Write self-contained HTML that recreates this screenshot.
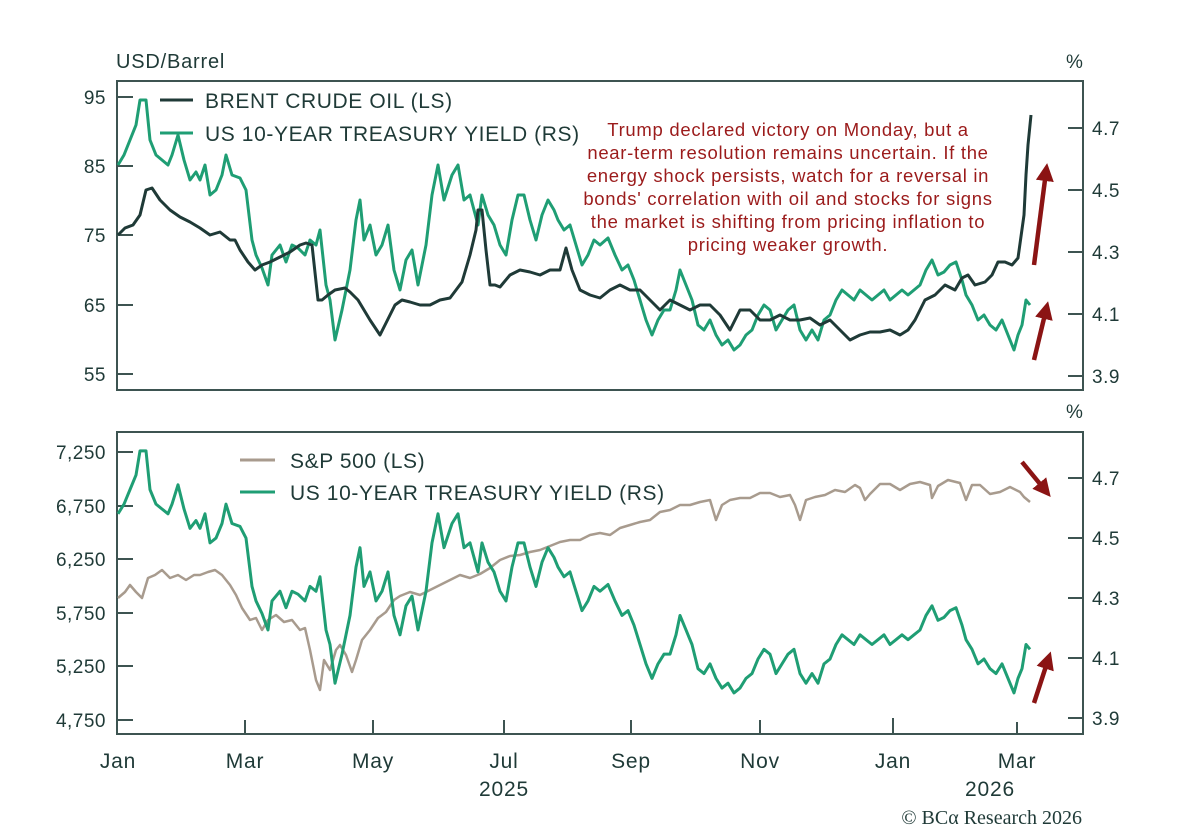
<!DOCTYPE html>
<html><head><meta charset="utf-8"><style>
body{margin:0;background:#fff;}
svg text{font-family:"Liberation Sans",sans-serif;fill:#1f3a37;}
</style></head><body>
<svg width="1200" height="830" viewBox="0 0 1200 830" xmlns="http://www.w3.org/2000/svg">
<defs>
<polyline id="yld" fill="none" stroke="#1f9e74" stroke-width="3" stroke-linejoin="round" vector-effect="non-scaling-stroke" points="118,165 124,155 130,140 136,125 140,100 146,100 150,140 156,155 162,160 168,165 172,155 178,135 184,160 190,180 196,172 200,180 205,165 210,195 216,190 222,175 226,155 232,175 240,178 246,190 252,240 256,255 262,268 268,285 272,255 280,245 286,262 292,245 298,248 305,255 310,240 316,245 320,230 326,285 330,300 335,340 342,310 350,270 356,220 360,200 364,240 370,225 376,255 382,245 388,225 394,270 400,290 406,260 412,250 418,285 426,245 432,195 438,165 444,200 452,175 458,165 464,200 470,195 478,225 482,195 488,215 494,225 500,245 506,255 512,220 518,195 524,195 530,220 536,240 542,215 548,200 554,210 558,220 564,230 570,225 576,245 582,265 588,255 594,240 600,245 608,238 615,255 622,270 628,265 634,280 640,300 646,320 652,335 658,320 664,310 670,310 676,290 680,270 686,285 692,300 698,325 704,330 710,320 716,335 722,345 728,340 734,350 740,345 746,335 752,330 758,315 764,305 770,310 776,330 782,320 788,310 794,305 800,330 806,340 812,330 818,340 824,320 830,315 836,300 842,290 848,295 854,300 860,290 866,295 872,300 878,295 884,290 890,300 896,295 902,290 908,295 914,290 920,285 926,270 932,260 938,275 944,272 950,265 956,262 962,280 966,295 972,305 978,320 984,315 990,325 996,330 1002,320 1008,335 1014,350 1018,335 1022,325 1026,300 1030,305"/>
<marker id="ah" markerWidth="4" markerHeight="4" refX="2" refY="2" orient="auto"><path d="M0,0 L4,2 L0,4 z" fill="#8b1414"/></marker>
</defs>
<!-- top panel -->
<text x="116" y="68" font-size="20" letter-spacing="0.8">USD/Barrel</text>
<text x="1066" y="68" font-size="19">%</text>
<rect x="117" y="81" width="966" height="309" fill="none" stroke="#3d5451" stroke-width="2"/>
<g stroke="#3d5451" stroke-width="2">
<line x1="117" y1="97" x2="133" y2="97"/><line x1="117" y1="166" x2="133" y2="166"/><line x1="117" y1="235" x2="133" y2="235"/><line x1="117" y1="305" x2="133" y2="305"/><line x1="117" y1="374" x2="133" y2="374"/>
<line x1="1068" y1="128" x2="1083" y2="128"/><line x1="1068" y1="190" x2="1083" y2="190"/><line x1="1068" y1="252" x2="1083" y2="252"/><line x1="1068" y1="314" x2="1083" y2="314"/><line x1="1068" y1="376" x2="1083" y2="376"/>
</g>
<g font-size="19" text-anchor="end" letter-spacing="0.5">
<text x="106" y="104">95</text><text x="106" y="173">85</text><text x="106" y="242">75</text><text x="106" y="312">65</text><text x="106" y="381">55</text>
</g>
<g font-size="19" letter-spacing="0.5">
<text x="1092" y="135">4.7</text><text x="1092" y="197">4.5</text><text x="1092" y="259">4.3</text><text x="1092" y="321">4.1</text><text x="1092" y="383">3.9</text>
</g>
<use href="#yld"/>
<polyline fill="none" stroke="#1f3a37" stroke-width="3" stroke-linejoin="round" points="118,235 125,228 133,225 140,215 146,190 152,188 160,200 170,210 180,217 190,222 200,228 210,235 220,232 230,240 235,240 240,250 248,262 255,270 262,265 270,262 278,258 290,252 300,245 306,243 312,245 318,300 322,300 328,295 335,290 345,288 350,292 358,300 370,320 380,335 385,325 395,305 402,300 410,302 420,305 430,305 440,300 450,298 462,282 470,255 476,230 478,210 482,210 486,250 490,285 495,285 500,287 510,275 520,270 530,272 540,275 550,270 560,270 566,248 572,270 580,290 590,295 600,298 610,290 620,285 630,290 640,290 650,300 660,310 670,300 680,305 690,310 700,305 710,305 720,315 730,330 740,310 750,310 760,320 770,320 780,315 790,320 800,320 810,318 820,325 830,320 840,330 850,340 860,335 870,332 880,332 890,330 900,335 908,330 915,320 925,300 935,295 945,285 955,290 962,278 968,275 975,285 985,282 992,275 998,262 1005,262 1012,265 1018,258 1024,215 1026,175 1028,145 1031,115"/>
<line x1="160" y1="100" x2="193" y2="100" stroke="#1f3a37" stroke-width="3"/>
<line x1="160" y1="133" x2="193" y2="133" stroke="#1f9e74" stroke-width="3"/>
<text x="205" y="108" font-size="21" letter-spacing="0.6">BRENT CRUDE OIL (LS)</text>
<text x="205" y="141" font-size="21" letter-spacing="0.6">US 10-YEAR TREASURY YIELD (RS)</text>
<g font-size="18.5" text-anchor="middle" letter-spacing="0.7">
<text x="788" y="136" style="fill:#9b1b1b">Trump declared victory on Monday, but a</text>
<text x="788" y="159" style="fill:#9b1b1b">near-term resolution remains uncertain. If the</text>
<text x="788" y="182" style="fill:#9b1b1b">energy shock persists, watch for a reversal in</text>
<text x="788" y="205" style="fill:#9b1b1b">bonds' correlation with oil and stocks for signs</text>
<text x="788" y="228" style="fill:#9b1b1b">the market is shifting from pricing inflation to</text>
<text x="788" y="251" style="fill:#9b1b1b">pricing weaker growth.</text>
</g>
<g stroke="#8b1414" stroke-width="4.5" marker-end="url(#ah)">
<line x1="1034" y1="265" x2="1046" y2="172"/>
<line x1="1034" y1="360" x2="1046" y2="310"/>
<line x1="1022" y1="462" x2="1045" y2="490"/>
<line x1="1034" y1="703" x2="1048" y2="660"/>
</g>
<!-- bottom panel -->
<text x="1066" y="418" font-size="19">%</text>
<rect x="117" y="432" width="966" height="302" fill="none" stroke="#3d5451" stroke-width="2"/>
<g stroke="#3d5451" stroke-width="2">
<line x1="117" y1="452" x2="133" y2="452"/><line x1="117" y1="506" x2="133" y2="506"/><line x1="117" y1="559" x2="133" y2="559"/><line x1="117" y1="613" x2="133" y2="613"/><line x1="117" y1="666" x2="133" y2="666"/><line x1="117" y1="720" x2="133" y2="720"/>
<line x1="1068" y1="478" x2="1083" y2="478"/><line x1="1068" y1="538" x2="1083" y2="538"/><line x1="1068" y1="598" x2="1083" y2="598"/><line x1="1068" y1="658" x2="1083" y2="658"/><line x1="1068" y1="718" x2="1083" y2="718"/>
<line x1="245" y1="734" x2="245" y2="720"/><line x1="373" y1="734" x2="373" y2="720"/><line x1="504" y1="734" x2="504" y2="720"/><line x1="631" y1="734" x2="631" y2="720"/><line x1="760" y1="734" x2="760" y2="720"/><line x1="893" y1="734" x2="893" y2="718"/><line x1="1017" y1="734" x2="1017" y2="722"/>
</g>
<g font-size="19" text-anchor="end" letter-spacing="0.5">
<text x="106" y="459">7,250</text><text x="106" y="513">6,750</text><text x="106" y="566">6,250</text><text x="106" y="620">5,750</text><text x="106" y="673">5,250</text><text x="106" y="727">4,750</text>
</g>
<g font-size="19" letter-spacing="0.5">
<text x="1092" y="485">4.7</text><text x="1092" y="545">4.5</text><text x="1092" y="605">4.3</text><text x="1092" y="665">4.1</text><text x="1092" y="725">3.9</text>
</g>
<polyline fill="none" stroke="#a89b8e" stroke-width="2.5" stroke-linejoin="round" points="118,598 125,592 130,585 136,592 142,598 148,578 155,575 162,570 170,578 178,575 186,580 194,575 200,575 208,572 215,570 222,575 230,585 236,595 242,608 250,620 256,618 262,630 268,620 276,615 284,622 292,620 300,630 305,628 310,650 316,680 320,690 324,660 330,670 336,650 340,645 346,655 352,672 356,660 362,640 370,630 378,618 386,612 394,600 400,596 410,592 420,595 430,590 440,585 450,580 460,575 470,578 480,574 490,568 500,560 510,556 520,555 530,552 540,550 550,546 560,542 570,540 580,540 590,535 600,533 610,535 620,528 630,525 640,522 650,520 660,512 670,510 680,505 690,505 700,502 710,500 716,520 722,505 730,500 740,498 750,498 760,493 770,493 780,497 790,495 795,505 800,520 806,500 815,497 825,495 835,490 845,492 855,485 860,488 865,500 870,494 880,484 890,484 900,490 910,484 920,482 930,485 932,498 938,486 948,480 960,483 966,500 972,485 980,485 990,494 1000,492 1010,487 1020,492 1024,497 1030,502"/>
<use href="#yld" transform="matrix(1 0 0 0.968 0 354.1)"/>
<line x1="240" y1="460" x2="275" y2="460" stroke="#a89b8e" stroke-width="3"/>
<line x1="240" y1="492" x2="275" y2="492" stroke="#1f9e74" stroke-width="3"/>
<text x="290" y="468" font-size="21" letter-spacing="0.6">S&amp;P 500 (LS)</text>
<text x="290" y="500" font-size="21" letter-spacing="0.6">US 10-YEAR TREASURY YIELD (RS)</text>
<!-- x axis -->
<g font-size="21" text-anchor="middle" letter-spacing="0.8">
<text x="118" y="768">Jan</text><text x="245" y="768">Mar</text><text x="373" y="768">May</text><text x="504" y="768">Jul</text><text x="631" y="768">Sep</text><text x="760" y="768">Nov</text><text x="893" y="768">Jan</text><text x="1017" y="768">Mar</text>
<text x="504" y="796">2025</text><text x="990" y="796">2026</text>
</g>
<text x="1082" y="824" font-size="20" text-anchor="end" style="font-family:'Liberation Serif',serif">© BCα Research 2026</text>
</svg>
</body></html>
